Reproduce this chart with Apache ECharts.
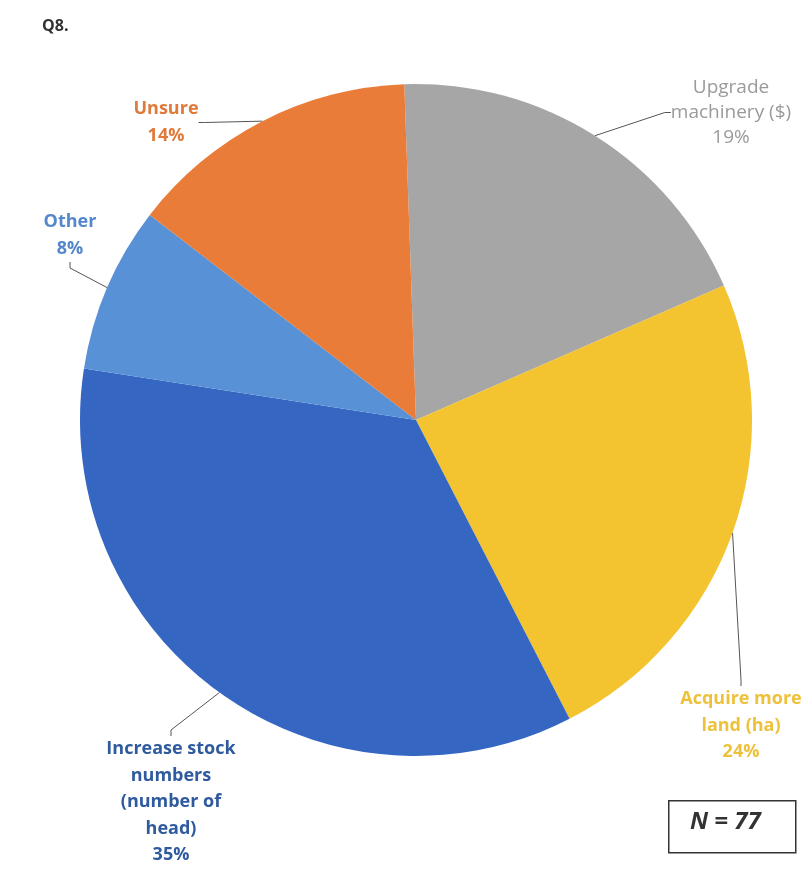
<!DOCTYPE html>
<html>
<head>
<meta charset="utf-8">
<script src="https://cdn.jsdelivr.net/npm/echarts@6/dist/echarts.min.js"></script>
<style>
  html, body { margin: 0; padding: 0; background: #fff; }
  #chart { width: 808px; height: 875px; }
</style>
</head>
<body>
<div id="chart"></div>
<script>
// Q8 answers, share of respondents (%)
const categories = ['Upgrade\nmachinery ($)', 'Acquire more\nland (ha)', 'Increase stock\nnumbers\n(number of\nhead)', 'Other', 'Unsure'];
const shares = [19, 24, 35, 8, 14];
const sliceColors = ['#a6a6a6', '#f3c330', '#3567c2', '#5891d6', '#e97c38'];
const labelColors = ['#9a9a9a', '#eec13a', '#2f5b9e', '#5487cc', '#e07a3a'];
const sampleSize = 77;

window.onload = function () {
    let chartDom = document.getElementById('chart');
    let chart = echarts.init(chartDom);

    // where each label block is centred (x) and starts (y top)
    let labelSpots = [
        { x: 731, y: 75 },
        { x: 741, y: 686 },
        { x: 171, y: 736 },
        { x: 70, y: 209 },
        { x: 166, y: 96 }
    ];

    let pieData = categories.map((name, i) => ({
        name: name,
        value: shares[i],
        itemStyle: { color: sliceColors[i] },
        label: {
            color: labelColors[i],
            fontWeight: i === 0 ? 'normal' : 'bold',
            fontSize: i === 0 ? 19 : 18,
            lineHeight: i === 0 ? 25 : 26.5
        }
    }));

    let option = {
        backgroundColor: '#ffffff',
        title: {
            text: 'Q8.',
            left: 37,
            top: 13,
            textStyle: {
                color: '#333',
                fontWeight: 'bold',
                fontSize: 16,
                fontFamily: 'Open Sans'
            }
        },
        series: [
            {
                type: 'pie',
                center: [416, 420],
                radius: 336,
                startAngle: 92,
                clockwise: true,
                animation: false,
                data: pieData,
                label: {
                    show: true,
                    position: 'outside',
                    fontFamily: 'Open Sans',
                    overflow: 'none',
                    align: 'center',
                    formatter: (p) => p.name + '\n' + p.value + '%'
                },
                labelLine: {
                    show: true,
                    length: 12,
                    length2: 6,
                    smooth: false,
                    lineStyle: { color: '#555', width: 1 }
                },
                labelLayout: function (params) {
                    let spot = labelSpots[params.dataIndex];
                    return {
                        x: spot.x,
                        y: spot.y,
                        align: 'center',
                        verticalAlign: 'top'
                    };
                }
            }
        ],
        graphic: [
            {
                type: 'rect',
                left: 668,
                top: 800,
                shape: { width: 127, height: 52 },
                style: { fill: '#fff', stroke: '#333', lineWidth: 1.5 }
            },
            {
                type: 'text',
                left: 690,
                top: 810,
                style: {
                    text: 'N = ' + sampleSize,
                    fill: '#333',
                    font: 'italic bold 24px "Open Sans"'
                }
            }
        ]
    };

    chart.setOption(option);
};
</script>
</body>
</html>
